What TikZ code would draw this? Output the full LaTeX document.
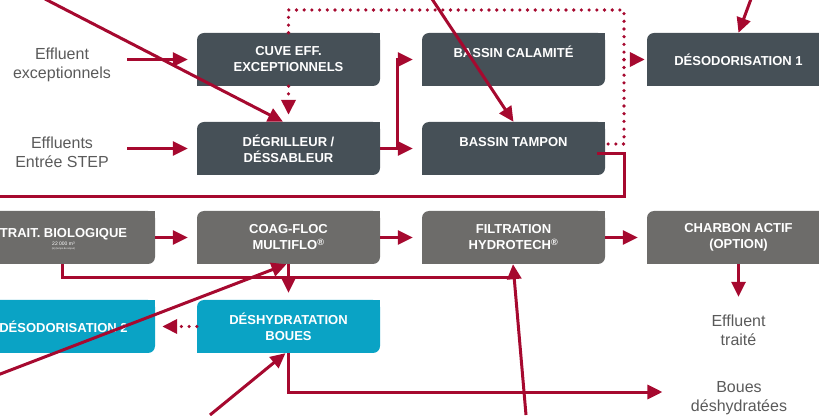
\documentclass[tikz,border=0pt]{standalone}
\usepackage{fontspec}
\setmainfont{Liberation Sans}
\usetikzlibrary{arrows.meta,calc}
\definecolor{cred}{HTML}{A6092F}
\definecolor{cdark}{HTML}{465057}
\definecolor{cgrey}{HTML}{6D6C6A}
\definecolor{ccyan}{HTML}{0AA3C5}
\definecolor{ctext}{HTML}{5A5A5A}
\newcommand\leafbox[5]{%
  \fill[#4, rounded corners=7pt] (#2-91.5,#3-26.5) rectangle (#2+91.5,#3+26.5);
  \fill[#4] (#2+91.5,#3+26.5) rectangle ++(-8,-8);
  \fill[#4] (#2-91.5,#3-26.5) rectangle ++(8,8);
  \node[boxtext] (#1) at (#2,#3) {#5};}
\tikzset{
  boxtext/.style={minimum width=183pt, minimum height=53pt, inner sep=0pt, text=white,
    font=\bfseries\fontsize{13}{16}\selectfont, align=center},
  graytext/.style={text=ctext, font=\fontsize{16}{18.5}\selectfont, align=center},
  redline/.style={draw=cred, line width=3pt},
  redarrow/.style={redline, -{Triangle[length=15pt,width=14pt]}},
  reddot/.style={draw=cred, line width=3.6pt, line cap=round, dash pattern=on 0pt off 7.7pt},
  reddotarr/.style={reddot, -{Triangle[length=15pt,width=14pt]}},
}
\begin{document}
\begin{tikzpicture}[x=1pt,y=1pt]
\useasboundingbox (0,0) rectangle (819,415);
\clip (0,0) rectangle (819,415);
% boxes
\leafbox{cuve}{288.5}{355.5}{cdark}{CUVE EFF.\\EXCEPTIONNELS}
\leafbox{calamite}{513.5}{355.5}{cdark}{\smash{\raisebox{1.8pt}{BASSIN CALAMITÉ}}}
\leafbox{deso1}{738.5}{355.5}{cdark}{DÉSODORISATION 1}
\leafbox{deg}{288.5}{266.5}{cdark}{DÉGRILLEUR /\\DÉSSABLEUR}
\leafbox{tampon}{513.5}{266.5}{cdark}{\smash{\raisebox{1.5pt}{BASSIN TAMPON}}}
\leafbox{trait}{63.5}{177.5}{cgrey}{\smash{TRAIT. BIOLOGIQUE}}
\leafbox{coag}{288.5}{177.5}{cgrey}{COAG-FLOC\\MULTIFLO\textsuperscript{®}}
\leafbox{filt}{513.5}{177.5}{cgrey}{FILTRATION\\HYDROTECH\textsuperscript{®}}
\leafbox{charbon}{738.5}{177.5}{cgrey}{CHARBON ACTIF\\(OPTION)}
\leafbox{deso2}{63.5}{88.5}{ccyan}{DÉSODORISATION 2}
\leafbox{deshyd}{288.5}{88.5}{ccyan}{DÉSHYDRATATION\\BOUES}
\node[anchor=base, text=white, font=\fontsize{5}{6}\selectfont, inner sep=0pt] (traitvol) at ($(trait.center)+(0,-8.3)$) {22 000 m³};
\node[anchor=base, text=white, font=\fontsize{2.5}{3}\selectfont, inner sep=0pt] (traitnote) at ($(trait.center)+(0,-12.5)$) {(à) (temps de séjour)};
% texts
\node[graytext] (eff1) at (62,350) {Effluent\\exceptionnels};
\node[graytext] (eff2) at (62,262.6) {Effluents\\Entrée STEP};
\node[graytext] (traite) at (738.5,84.5) {Effluent\\traité};
\node[graytext] (boues) at (739,16.6) {Boues\\déshydratées};
% connectors
\draw[redarrow, shorten <=13pt, shorten >=9pt] (eff1.east |- cuve.west) -- (cuve.west);
\draw[redarrow, shorten <=15pt, shorten >=9pt] (eff2.east |- deg.west) -- (deg.west);
\coordinate (dtop) at (624,405);
\draw[reddot] (cuve.north) |- (dtop) |- ([yshift=4.5pt]tampon.east);
\draw[reddotarr, shorten >=2pt] (dtop |- deso1.west) -- (deso1.west);
\draw[reddotarr, shorten >=7pt] (cuve.south) -- (deg.north);
\draw[redarrow, shorten >=9pt] (deg.east) -- (tampon.west);
\draw[redarrow, shorten >=9pt] (deg.east) -- ++(17,0) |- (calamite.west);
\coordinate (offleft) at (-20,218);
\draw[redline] ([xshift=-8pt,yshift=-5.5pt]tampon.east) -- ++(27,0) |- (offleft);
\draw[redarrow, shorten >=9pt] (trait.east) -- (coag.west);
\draw[redarrow, shorten >=9pt] (coag.east) -- (filt.west);
\draw[redarrow, shorten >=9pt] (filt.east) -- (charbon.west);
\draw[redline] ([xshift=-1.5pt]trait.south) |- ($(filt.south)+(-3,-13)$);
\draw[redarrow, shorten >=7pt] (coag.south) -- (deshyd.north);
\draw[reddotarr, shorten >=7pt] (deshyd.west) -- (deso2.east);
\draw[redarrow, shorten >=25pt] (deshyd.south) |- ([yshift=6.4pt]boues.west);
\draw[redarrow, shorten >=15pt] (charbon.south) -- (traite.north);
% pointer lines
\coordinate (a1) at (45,416);
\coordinate (a2) at (432,416);
\coordinate (a3) at (751,416);
\coordinate (a4) at (-1,40.5);
\coordinate (a5) at (210,0);
\coordinate (a6) at (526,0);
\draw[redarrow] (a1) -- ([xshift=-5.5pt]deg.north);
\draw[redarrow] (a2) -- (tampon.north);
\draw[redarrow] (a3) -- (deso1.north);
\draw[redarrow] (a4) -- ([xshift=-2pt]coag.south);
\draw[redarrow] (a5) -- ([xshift=-3pt]deshyd.south);
\draw[redarrow] (a6) -- ([xshift=-0.5pt]filt.south);
\end{tikzpicture}
\end{document}
